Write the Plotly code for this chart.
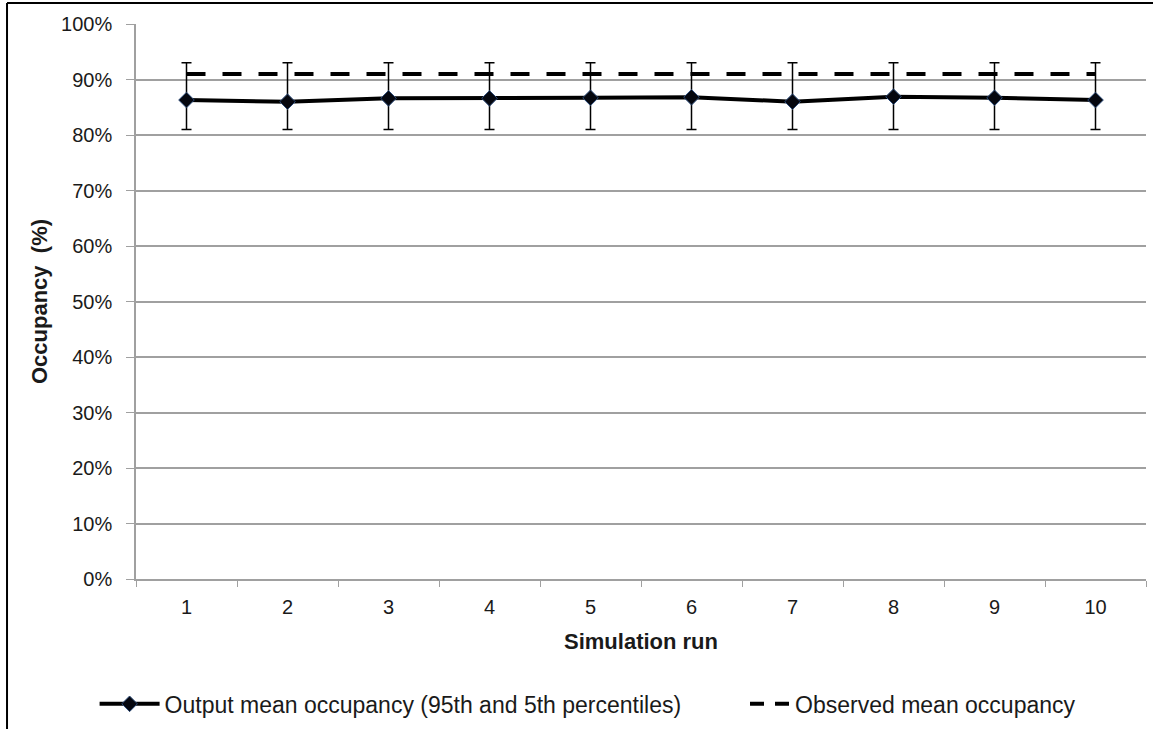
import plotly.graph_objects as go

runs = ["1", "2", "3", "4", "5", "6", "7", "8", "9", "10"]
mean_occ = [0.863, 0.860, 0.866, 0.866, 0.867, 0.868, 0.860, 0.869, 0.867, 0.863]
p95 = [0.93, 0.93, 0.93, 0.93, 0.93, 0.93, 0.93, 0.93, 0.93, 0.93]
p5 = [0.81, 0.81, 0.81, 0.81, 0.81, 0.81, 0.81, 0.81, 0.81, 0.81]
observed = [0.91] * 10
y_ticks = [i / 10 for i in range(11)]

err_plus = [u - m for u, m in zip(p95, mean_occ)]
err_minus = [m - l for m, l in zip(mean_occ, p5)]

FONT = "Liberation Sans, Arial, sans-serif"
TXT = "#1a1a1a"
GRID = "#a0a0a0"

fig = go.Figure()
fig.add_trace(go.Scatter(
    x=runs, y=mean_occ, mode="lines+markers",
    name="Output mean occupancy (95th and 5th percentiles)",
    line=dict(color="black", width=4),
    marker=dict(symbol="diamond", size=12, color="#05070f",
                line=dict(color="#2b4a78", width=1)),
    error_y=dict(type="data", symmetric=False, array=err_plus, arrayminus=err_minus,
                 color="black", thickness=1.5, width=5),
    legend="legend",
))
fig.add_trace(go.Scatter(
    x=runs, y=observed, mode="lines",
    name="Observed mean occupancy",
    line=dict(color="black", width=4, dash="19px,17px"),
    showlegend=False,
))
# legend entry for the observed line (shorter dash pattern, as in the original legend)
fig.add_trace(go.Scatter(
    x=[None], y=[None], mode="lines",
    name="Observed mean occupancy",
    line=dict(color="black", width=4, dash="14px,11px"),
    legend="legend2",
))

fig.update_layout(
    width=1153, height=729,
    margin=dict(l=136, r=7, t=24, b=150, autoexpand=False),
    paper_bgcolor="white", plot_bgcolor="white",
    font=dict(family=FONT, size=20, color=TXT),
    legend=dict(orientation="h", x=-0.041, y=-0.225, xanchor="left", yanchor="middle",
                font=dict(size=23, color=TXT), bgcolor="rgba(0,0,0,0)", itemwidth=60),
    legend2=dict(orientation="h", x=0.603, y=-0.225, xanchor="left", yanchor="middle",
                 font=dict(size=23, color=TXT), bgcolor="rgba(0,0,0,0)", itemwidth=40),
    xaxis=dict(
        type="category", range=[-0.5, 9.5],
        showline=True, linecolor=GRID, linewidth=1.5,
        ticks="outside", tickson="boundaries", ticklen=6, tickcolor=GRID,
        showgrid=False,
        title=dict(text="<b>Simulation run</b>", font=dict(size=22, color=TXT), standoff=17),
        tickfont=dict(size=20, color=TXT),
        ticklabelstandoff=9,
    ),
    yaxis=dict(
        range=[0, 1], tickvals=y_ticks, tickformat=".0%",
        showline=True, linecolor=GRID, linewidth=1.5,
        ticks="outside", ticklen=8, tickcolor=GRID,
        showgrid=True, gridcolor=GRID, gridwidth=1.5,
        zeroline=False,
        title=dict(text="<b>Occupancy  (%)</b>", font=dict(size=22, color=TXT), standoff=7),
        tickfont=dict(size=20, color=TXT),
        ticklabelstandoff=10,
    ),
    showlegend=True,
)

# outer chart frame (extends beyond the visible image on right/bottom)
fig.add_shape(type="line", xref="paper", yref="paper", x0=-0.1277, x1=1.1, y0=1.0378, y1=1.0378,
              line=dict(color="black", width=2))
fig.add_shape(type="line", xref="paper", yref="paper", x0=-0.1277, x1=-0.1277, y0=1.0378, y1=-0.4,
              line=dict(color="black", width=2))

fig.write_html("out.html", config={"displayModeBar": False},
               post_script="document.body.style.margin='0';document.body.style.overflow='hidden';")
